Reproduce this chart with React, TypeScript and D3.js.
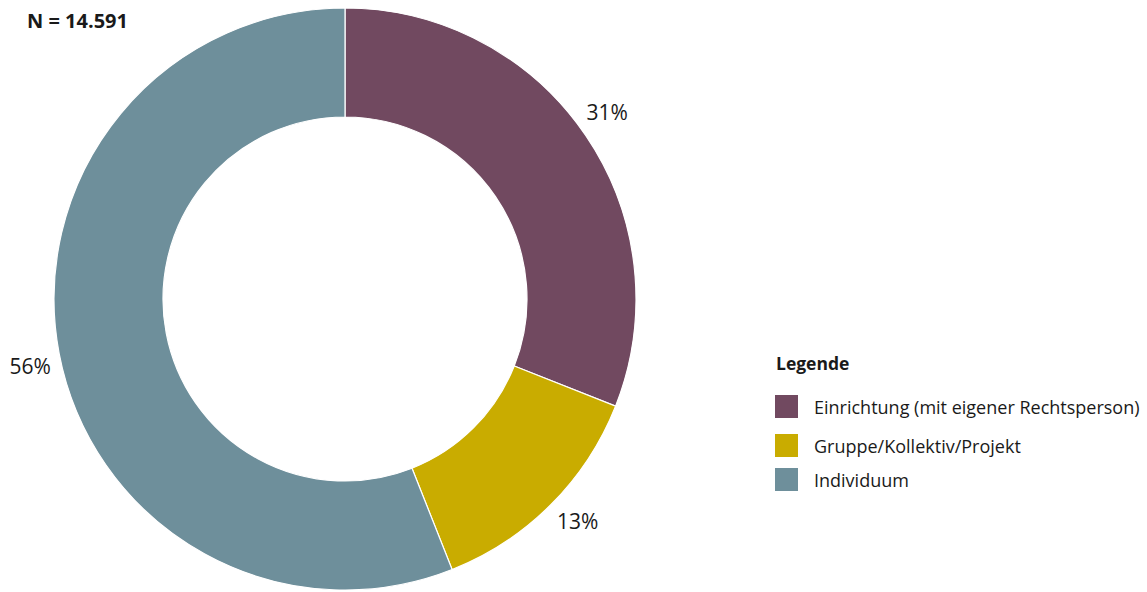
import React from "react";
import * as d3 from "d3";

const categories = ["Einrichtung (mit eigener Rechtsperson)", "Gruppe/Kollektiv/Projekt", "Individuum"];
const values = [31, 13, 56];
const labels = ["31%", "13%", "56%"];
const colors = ["#714960", "#C9AC00", "#6E8F9B"];
const title = "N = 14.591";
const legendTitle = "Legende";

const W = 1147, H = 592;
const cx = 345, cy = 299, rOuter = 291, rInner = 182, rLabel = 322;
const labelShift = (-1.3 * Math.PI) / 180;
const FONT = "'Open Sans', 'Noto Sans', sans-serif";

export default function App() {
  const pie = d3.pie<number>().sort(null).value((d) => d)(values);
  const arc = d3.arc<d3.PieArcDatum<number>>().innerRadius(rInner).outerRadius(rOuter);
  return (
    <svg width={W} height={H} style={{ position: "absolute", left: 0, top: 0 }} fontFamily={FONT}>
      <rect width={W} height={H} fill="#fff" />
      <g transform={`translate(${cx},${cy})`}>
        {pie.map((p, i) => (
          <path key={i} d={arc(p) || ""} fill={colors[i]} stroke="#fff" strokeWidth={1.2} />
        ))}
        {pie.map((p, i) => {
          const a = (p.startAngle + p.endAngle) / 2 + labelShift;
          const x = rLabel * Math.sin(a);
          const y = -rLabel * Math.cos(a);
          return (
            <text key={i} x={x} y={y} textAnchor="middle" dominantBaseline="central" fontSize={21} fill="#1a1a1a">
              {labels[i]}
            </text>
          );
        })}
      </g>
      <text x={27} y={28} fontSize={20} fontWeight="bold" fill="#1a1a1a">{title}</text>
      <text x={776} y={370} fontSize={17.5} fontWeight="bold" fill="#1a1a1a">{legendTitle}</text>
      {categories.map((c, i) => {
        const ys = [395, 434, 468];
        return (
          <g key={i}>
            <rect x={775} y={ys[i]} width={23} height={23} fill={colors[i]} />
            <text x={814} y={ys[i] + 11.5} dominantBaseline="central" fontSize={18} fill="#1a1a1a">{c}</text>
          </g>
        );
      })}
    </svg>
  );
}
